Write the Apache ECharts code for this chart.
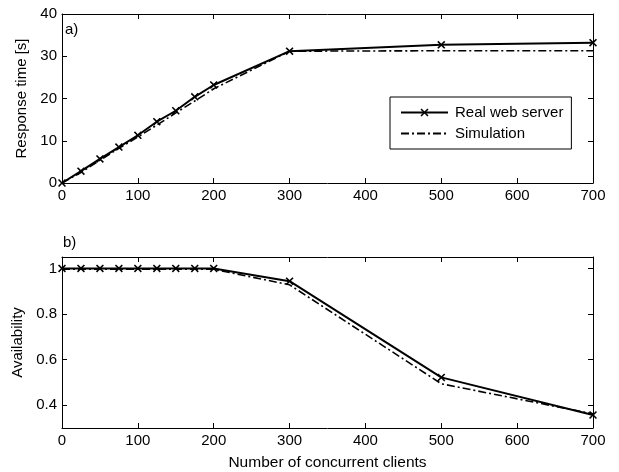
<!DOCTYPE html>
<html>
<head>
<meta charset="utf-8">
<script src="https://cdn.jsdelivr.net/npm/echarts@6/dist/echarts.min.js"></script>
<style>
  html, body { margin: 0; padding: 0; background: #fff; }
  #chart { width: 619px; height: 472px; }
</style>
</head>
<body>
<div id="chart"></div>
<script>
// Number of concurrent clients (shared x values for both panels)
const clients = [0, 25, 50, 75, 100, 125, 150, 175, 200, 300, 500, 700];

// Panel a) response time in seconds
const respReal = [0, 2.8, 5.7, 8.5, 11.3, 14.5, 17.1, 20.4, 23.2, 31.2, 32.7, 33.2];
const respSim  = [0, 2.5, 5.4, 8.2, 10.9, 13.7, 16.6, 19.4, 22.3, 31.2, 31.3, 31.3];

// Panel b) availability
const availReal = [1, 1, 1, 1, 1, 1, 1, 1, 1, 0.944, 0.522, 0.357];
const availSim  = [0.996, 0.996, 0.996, 0.996, 0.996, 0.996, 0.996, 0.996, 0.996, 0.928, 0.494, 0.362];

const availTicks = [0.4, 0.6, 0.8, 1];

const FONT = 'Liberation Sans, Arial, sans-serif';
const FS = 15;
const pair = (xs, ys) => xs.map((x, i) => [x, ys[i]]);
// "x" marker drawn as a filled outline so it scales with symbolSize
const crossSymbol = 'path://M0,1.4 L1.4,0 L5,3.6 L8.6,0 L10,1.4 L6.4,5 L10,8.6 L8.6,10 L5,6.4 L1.4,10 L0,8.6 L3.6,5 Z';
const dashDot = [8, 3, 2, 3];

const labelStyle = { color: '#000', fontFamily: FONT, fontSize: FS };
const tickStyle = { show: true, inside: true, length: 5, lineStyle: { color: '#000', width: 1 } };
const lineAxis = { show: true, onZero: false, lineStyle: { color: '#000', width: 1 } };

function xAxes(gridIndex) {
  return [
    {
      type: 'value', gridIndex, min: 0, max: 700, interval: 100, position: 'bottom',
      axisLine: lineAxis, axisTick: tickStyle, splitLine: { show: false },
      axisLabel: Object.assign({ margin: 5 }, labelStyle)
    },
    {
      type: 'value', gridIndex, min: 0, max: 700, interval: 100, position: 'top',
      axisLine: lineAxis, axisTick: tickStyle, splitLine: { show: false },
      axisLabel: { show: false }
    }
  ];
}

const chart = echarts.init(document.getElementById('chart'), null, { renderer: 'canvas' });

chart.setOption({
  animation: false,
  backgroundColor: '#fff',
  textStyle: { fontFamily: FONT, color: '#000' },
  grid: [
    { left: 62, top: 14, width: 531, height: 169 },
    { left: 62, top: 257, width: 531, height: 171 }
  ],
  legend: {
    data: [
      { name: 'Real web server' },
      { name: 'Simulation', itemStyle: { opacity: 0 } }
    ],
    orient: 'vertical',
    left: 390, top: 97,
    itemWidth: 47, itemHeight: 10, itemGap: 6,
    padding: [8, 8, 8, 10],
    backgroundColor: '#fff',
    borderColor: '#000', borderWidth: 1, borderRadius: 0,
    textStyle: { color: '#000', fontFamily: FONT, fontSize: FS, padding: [0, 0, 0, 2] },
    selectedMode: false
  },
  xAxis: [...xAxes(0), ...xAxes(1)],
  yAxis: [
    {
      type: 'value', gridIndex: 0, min: 0, max: 40, interval: 10, position: 'left',
      name: 'Response time [s]', nameLocation: 'middle', nameGap: 27,
      nameTextStyle: { color: '#000', fontFamily: FONT, fontSize: FS },
      axisLine: lineAxis, axisTick: tickStyle, splitLine: { show: false },
      axisLabel: Object.assign({ margin: 5 }, labelStyle)
    },
    {
      type: 'value', gridIndex: 0, min: 0, max: 40, interval: 10, position: 'right',
      axisLine: lineAxis, axisTick: tickStyle, splitLine: { show: false },
      axisLabel: { show: false }
    },
    {
      type: 'value', gridIndex: 1, min: 0.3, max: 1.05, position: 'left',
      name: 'Availability', nameLocation: 'middle', nameGap: 35,
      nameTextStyle: { color: '#000', fontFamily: FONT, fontSize: FS },
      axisLine: lineAxis,
      axisTick: Object.assign({ customValues: availTicks }, tickStyle),
      splitLine: { show: false },
      axisLabel: Object.assign({ margin: 5, customValues: availTicks }, labelStyle)
    },
    {
      type: 'value', gridIndex: 1, min: 0.3, max: 1.05, position: 'right',
      axisLine: lineAxis,
      axisTick: Object.assign({ customValues: availTicks }, tickStyle),
      splitLine: { show: false },
      axisLabel: { show: false }
    }
  ],
  graphic: [
    { type: 'text', left: 65, top: 22, style: { text: 'a)', fill: '#000', font: FS + 'px ' + FONT } },
    { type: 'text', left: 63, top: 235, style: { text: 'b)', fill: '#000', font: FS + 'px ' + FONT } },
    { type: 'text', x: 327.5, y: 455,
      style: { text: 'Number of concurrent clients', fill: '#000', font: '15.5px ' + FONT, align: 'center' } }
  ],
  series: [
    {
      name: 'Simulation', type: 'line', xAxisIndex: 0, yAxisIndex: 0,
      data: pair(clients, respSim), showSymbol: false, symbol: 'none',
      lineStyle: { color: '#000', width: 1.6, type: dashDot }, itemStyle: { color: '#000' }, z: 2
    },
    {
      name: 'Real web server', type: 'line', xAxisIndex: 0, yAxisIndex: 0,
      data: pair(clients, respReal), symbol: crossSymbol, symbolSize: 8, showAllSymbol: true,
      lineStyle: { color: '#000', width: 2 }, itemStyle: { color: '#000' }, z: 3
    },
    {
      name: 'Simulation', type: 'line', xAxisIndex: 2, yAxisIndex: 2,
      data: pair(clients, availSim), showSymbol: false, symbol: 'none',
      lineStyle: { color: '#000', width: 1.6, type: dashDot }, itemStyle: { color: '#000' }, z: 2
    },
    {
      name: 'Real web server', type: 'line', xAxisIndex: 2, yAxisIndex: 2,
      data: pair(clients, availReal), symbol: crossSymbol, symbolSize: 8, showAllSymbol: true,
      lineStyle: { color: '#000', width: 2 }, itemStyle: { color: '#000' }, z: 3
    }
  ]
});
</script>
</body>
</html>
